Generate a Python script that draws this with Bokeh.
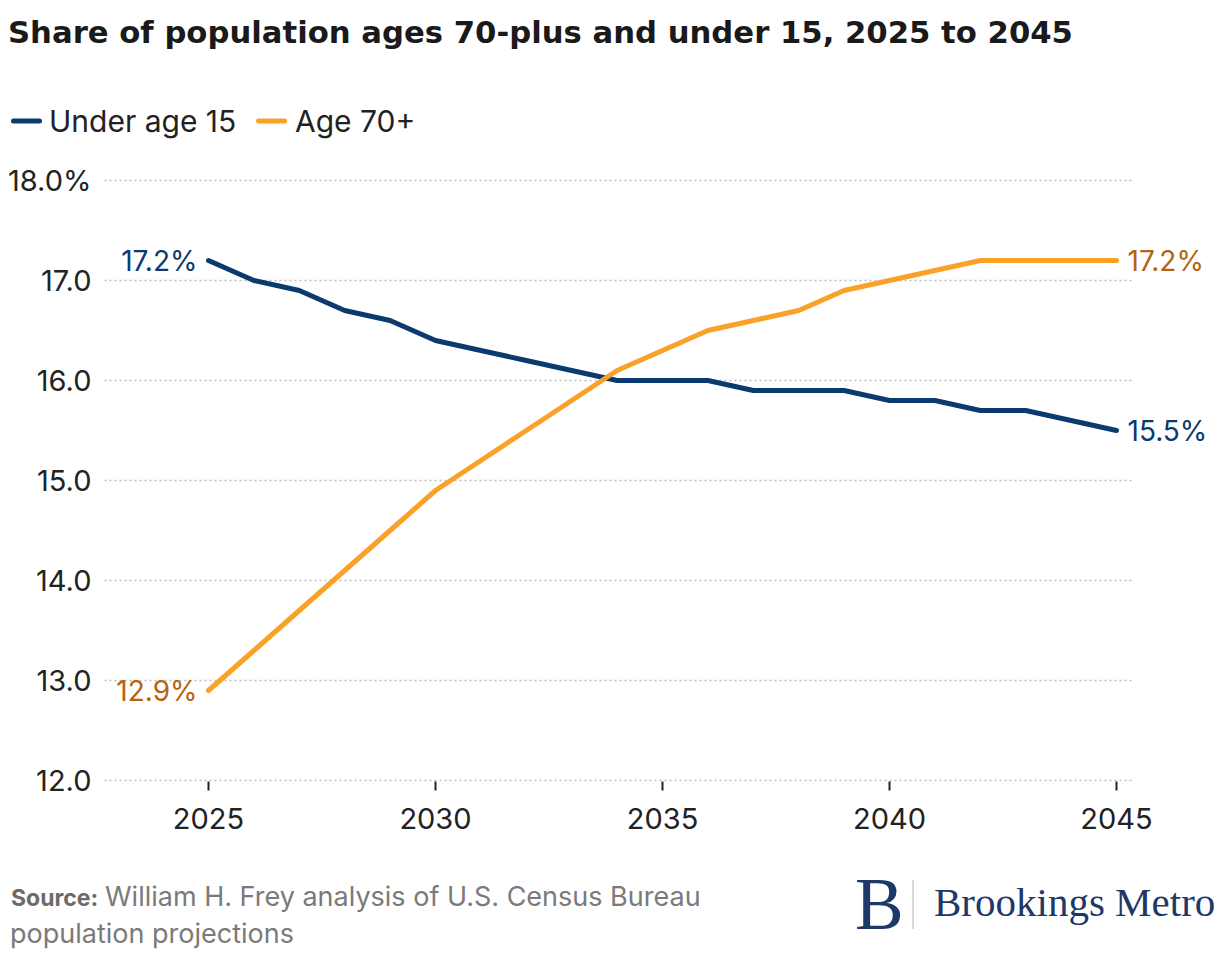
from bokeh.plotting import figure
from bokeh.layouts import column
from bokeh.models import (ColumnDataSource, Range1d, FixedTicker, LabelSet,
                          NumeralTickFormatter, Div)
from bokeh.core.properties import value
from bokeh.embed import file_html
from bokeh.resources import INLINE

# ---- data ----
years = [2025, 2026, 2027, 2028, 2029, 2030, 2031, 2032, 2033, 2034, 2035,
         2036, 2037, 2038, 2039, 2040, 2041, 2042, 2043, 2044, 2045]
under15 = [17.2, 17.0, 16.9, 16.7, 16.6, 16.4, 16.3, 16.2, 16.1, 16.0, 16.0,
           16.0, 15.9, 15.9, 15.9, 15.8, 15.8, 15.7, 15.7, 15.6, 15.5]
age70 = [12.9, 13.3, 13.7, 14.1, 14.5, 14.9, 15.2, 15.5, 15.8, 16.1, 16.3,
         16.5, 16.6, 16.7, 16.9, 17.0, 17.1, 17.2, 17.2, 17.2, 17.2]
series_names = ["Under age 15", "Age 70+"]
x_ticks = [2025, 2030, 2035, 2040, 2045]
y_ticks = [12, 13, 14, 15, 16, 17, 18]
y_tick_labels = ["12.0", "13.0", "14.0", "15.0", "16.0", "17.0", "18.0%"]

title_text = "Share of population ages 70-plus and under 15, 2025 to 2045"
source_bold = "Source:"
source_line1 = "William H. Frey analysis of U.S. Census Bureau"
source_line2 = "population projections"
logo_letter = "B"
logo_text = "Brookings Metro"

BLUE = "#0a3a6e"
ORANGE = "#f9a227"
ORANGE_TXT = "#b4640e"
TXT = "#222222"
NAVY = "#1e3868"
FONT = "Inter"
SERIF = "Liberation Serif"
W = 1216


def st(family, size, weight=400, color=TXT):
    return (f"font-family:'{family}' !important;font-size:{size}px !important;"
            f"font-weight:{weight} !important;fill:{color} !important;"
            f"font-style:normal !important")


# ---------------- header (title + legend) ----------------
HH = 150
header_svg = f"""
<svg xmlns="http://www.w3.org/2000/svg" width="{W}" height="{HH}" style="display:block">
  <text x="8" y="43" style="{st('DejaVu Sans', 30.7, 700, '#1a1a1a')}">{title_text}</text>
  <line x1="13.5" y1="121" x2="39.5" y2="121" stroke="{BLUE}" stroke-width="5"
        stroke-linecap="round"/>
  <text x="49" y="132" style="{st(FONT, 30)}">{series_names[0]}</text>
  <line x1="258.5" y1="121" x2="284.5" y2="121" stroke="{ORANGE}" stroke-width="5"
        stroke-linecap="round"/>
  <text x="295" y="132" style="{st(FONT, 30)}">{series_names[1]}</text>
</svg>"""
head = Div(text=header_svg, width=W, height=HH, margin=0,
           styles={"padding": "0", "margin": "0", "overflow": "hidden"})

# ---------------- main chart ----------------
PX_PER_YEAR = 45.4
x_start = 2025 - 104 / PX_PER_YEAR
grid_end = 2045 + 16 / PX_PER_YEAR

MH = 710
p = figure(width=W, height=MH, output_backend="svg", toolbar_location=None,
           x_range=Range1d(x_start, x_start + (W - 104) / PX_PER_YEAR),
           y_range=Range1d(11.99, 18.1),
           min_border_left=104, min_border_right=0, min_border_top=20,
           min_border_bottom=79, margin=0)
p.outline_line_color = None
p.grid.visible = False

# dotted horizontal gridlines
p.segment(x0=[x_start] * len(y_ticks), y0=y_ticks,
          x1=[grid_end] * len(y_ticks), y1=y_ticks,
          line_color="#bdbdbd", line_dash="2 3", line_width=1.5)

xa = p.xaxis[0]
xa.ticker = FixedTicker(ticks=x_ticks)
xa.axis_line_color = None
xa.major_tick_in = 0
xa.major_tick_out = 9
xa.major_tick_line_width = 2
xa.major_tick_line_color = TXT
xa.minor_tick_line_color = None
xa.major_label_text_font = FONT
xa.major_label_text_font_size = "29px"
xa.major_label_text_color = TXT
xa.major_label_standoff = 17

ya = p.yaxis[0]
ya.ticker = FixedTicker(ticks=y_ticks)
ya.formatter = NumeralTickFormatter(format="0.0")
ya.major_label_overrides = {t: l for t, l in zip(y_ticks, y_tick_labels)}
ya.axis_line_color = None
ya.major_tick_in = 0
ya.major_tick_out = 0
ya.major_tick_line_color = None
ya.minor_tick_line_color = None
ya.minor_tick_out = 0
ya.major_label_text_font = FONT
ya.major_label_text_font_size = "29px"
ya.major_label_text_color = TXT
ya.major_label_standoff = 13

src = ColumnDataSource(data=dict(year=years, u15=under15, a70=age70))
p.line("year", "u15", source=src, line_color=BLUE, line_width=5,
       line_cap="round", line_join="round")
p.line("year", "a70", source=src, line_color=ORANGE, line_width=5,
       line_cap="round", line_join="round")


def end_labels(vals, color):
    s = ColumnDataSource(data=dict(
        x=[years[0], years[-1]], y=[vals[0], vals[-1]],
        t=[f"{vals[0]:.1f}%", f"{vals[-1]:.1f}%"],
        xo=[-11, 11], al=["right", "left"]))
    return LabelSet(x="x", y="y", text="t", x_offset="xo", text_align="al",
                    text_baseline="middle", source=s, text_font=value(FONT),
                    text_font_size="28px", text_color=color)


p.add_layout(end_labels(under15, BLUE))
p.add_layout(end_labels(age70, ORANGE_TXT))

# ---------------- footer ----------------
FH = 92
footer_svg = f"""
<svg xmlns="http://www.w3.org/2000/svg" width="{W}" height="{FH}" style="display:block">
  <text x="11" y="46" style="{st(FONT, 23, 700, '#6b6b6b')}">{source_bold}</text>
  <text x="105" y="46" style="{st(FONT, 27, 400, '#7a7a7a')}">{source_line1}</text>
  <text x="10" y="83" style="{st(FONT, 27, 400, '#7a7a7a')}">{source_line2}</text>
  <text x="855" y="69" style="{st(SERIF, 73, 400, NAVY)}">{logo_letter}</text>
  <line x1="913" y1="20" x2="913" y2="69" stroke="#c9ced8" stroke-width="1.5"/>
  <text x="934" y="56" style="{st(SERIF, 41, 400, NAVY)}">{logo_text}</text>
</svg>"""
foot = Div(text=footer_svg, width=W, height=FH, margin=0,
           styles={"padding": "0", "margin": "0", "overflow": "hidden"})

layout = column(head, p, foot, spacing=0)
open("out.html", "w").write(file_html(layout, INLINE))
